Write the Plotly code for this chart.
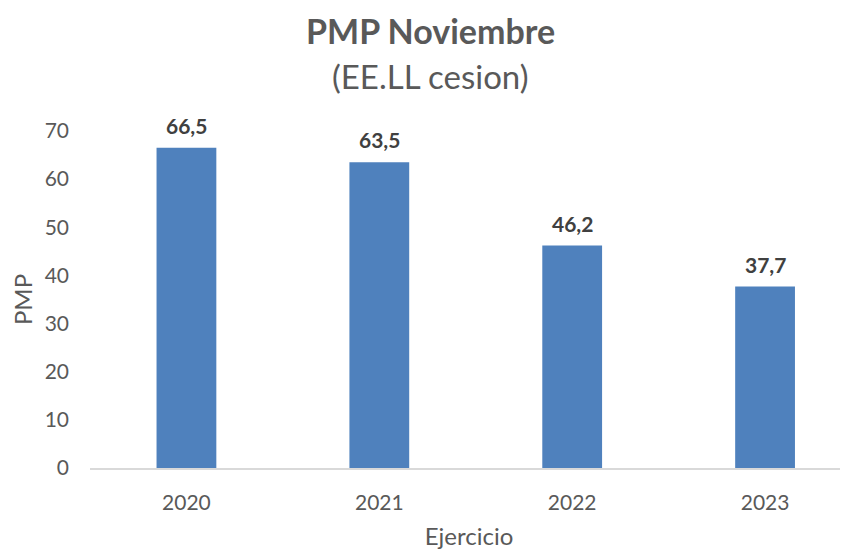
import plotly.graph_objects as go

years = ["2020", "2021", "2022", "2023"]
pmp = [66.5, 63.5, 46.2, 37.7]
y_ticks = [0, 10, 20, 30, 40, 50, 60, 70]
title_main = "PMP Noviembre"
title_sub = "(EE.LL cesion)"

FONT = "Lato"
GRAY = "#595959"

# page body has an 8px margin in the browser; figure sized to fit the window
W, H = 840, 542
L, T = 82, 123
B = H - 460

fig = go.Figure()
fig.add_trace(go.Bar(
    x=years, y=pmp, marker=dict(color="#4F81BD", line=dict(width=0)),
    width=0.31, hoverinfo="skip",
))

for i, v in enumerate(pmp):
    fig.add_annotation(
        x=i, y=v, xref="x", yref="y",
        text="<b>" + f"{v:.1f}".replace(".", ",") + "</b>",
        showarrow=False, yanchor="bottom", yshift=8,
        font=dict(family=FONT, size=21, color="#404040"),
    )

px_w = W - L
px_h = (H - B) - T
bottom = H - B
fig.add_annotation(text="<b>" + title_main + "</b>", xref="paper", yref="paper",
                   x=(422 - L) / px_w, y=(bottom - 23) / px_h,
                   showarrow=False, xanchor="center", yanchor="middle",
                   font=dict(family=FONT, size=34, color=GRAY))
fig.add_annotation(text=title_sub, xref="paper", yref="paper",
                   x=(422 - L) / px_w, y=(bottom - 68) / px_h,
                   showarrow=False, xanchor="center", yanchor="middle",
                   font=dict(family=FONT, size=33, color=GRAY))

fig.update_layout(
    width=W, height=H,
    margin=dict(l=L, r=0, t=T, b=B),
    paper_bgcolor="white", plot_bgcolor="white",
    showlegend=False,
    font=dict(family=FONT, color=GRAY),
    xaxis=dict(
        type="category", range=[-0.5, 3.43], automargin=False,
        showline=True, linecolor="#D9D9D9", linewidth=1.5,
        showgrid=False, ticks="", tickfont=dict(size=21, color=GRAY),
        ticklabelstandoff=15,
        title=dict(text="Ejercicio", font=dict(size=24, color=GRAY), standoff=21),
    ),
    yaxis=dict(
        range=[0, 70], tickvals=y_ticks, showgrid=False, zeroline=False,
        automargin=False,
        showline=False, ticks="", tickfont=dict(size=21, color=GRAY),
        ticklabelstandoff=20,
        title=dict(text="PMP", font=dict(size=24, color=GRAY), standoff=10),
    ),
)

fig.write_html("out.html")
